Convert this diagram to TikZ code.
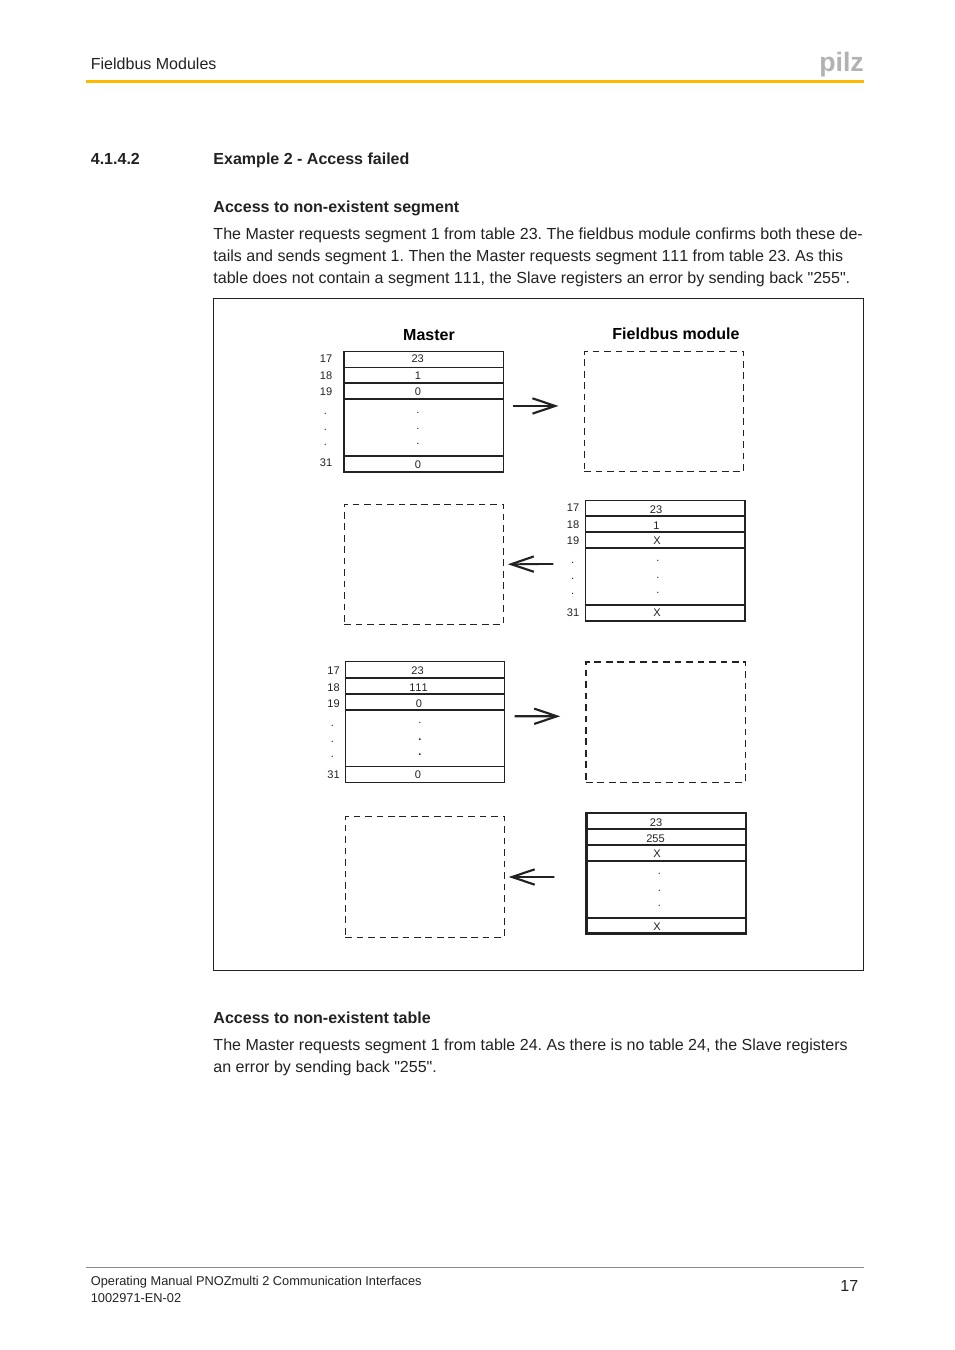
\documentclass[tikz,border=0pt]{standalone}
\usepackage{fontspec}
\setmainfont{Liberation Sans}
\newfontfamily\plainsans[Kerning=Off]{Liberation Sans}
\AtBeginDocument{\plainsans\frenchspacing}
\usetikzlibrary{arrows.meta}
\definecolor{ink}{HTML}{222222}
\definecolor{piz}{HTML}{B2B2B2}
\definecolor{rulegold}{HTML}{FFB900}
\definecolor{rulegrey}{HTML}{8A8A8A}
\tikzset{
  x=0.75pt,y=-0.75pt,
  body/.style={anchor=north west,inner sep=0pt,align=left,text=ink,font=\fontsize{12.02}{16.5}\selectfont},
  line/.style={anchor=base west,inner sep=0pt,text=ink,font=\fontsize{12.02}{16.5}\selectfont},
  head/.style={line,font=\fontsize{12.02}{16.5}\selectfont\bfseries},
  title/.style={anchor=center,inner sep=0pt,text=black,font=\fontsize{12}{14}\selectfont\bfseries},
  foot/.style={line,font=\fontsize{9.6}{12}\selectfont},
  cell/.style={anchor=center,inner sep=0pt,yshift=-0.5pt,text=ink,font=\fontsize{8.3}{10}\selectfont},
  regbox/.style={draw=ink,line width=1.2pt,inner sep=0pt,minimum width=119.6pt,minimum height=90.3pt},
  emptybox/.style={draw=ink,line width=0.7pt,dash pattern=on 5pt off 3.6pt,inner sep=0pt,minimum width=119.6pt,minimum height=90.3pt},
  thinrow/.style={draw=ink,line width=0.65pt},
  thickrow/.style={draw=ink,line width=1.2pt},
  flow/.style={draw=ink,line width=1.4pt,-{Straight Barb[length=17pt,width=11.5pt,line width=1.6pt]}},
}
\begin{document}
\begin{tikzpicture}
\useasboundingbox (0,0) rectangle (954,1350);
% page furniture
\node[line] (hdr) at (90.6,69) {Fieldbus Modules};
\node[anchor=base east,inner sep=0pt,text=piz,font=\fontsize{20}{20}\selectfont\bfseries] (logo) at (864,71.5) {pilz};
\fill[rulegold] (86,80) rectangle (863.5,83);
\node[head] (secnum) at (90.6,164) {4.1.4.2};
\node[head] (sectitle) at (213.2,164) {Example 2 - Access failed};
\node[head] (sub1) at (213.2,212) {Access to non-existent segment};
\node[body] (para1) at (213.2,227.3) {The Master requests segment 1 from table 23. The fieldbus module confirms both these de-\\tails and sends segment 1. Then the Master requests segment 111 from table 23. As this\\table does not contain a segment 111, the Slave registers an error by sending back "255".};
\draw[ink,line width=0.5pt] (213.5,298.5) rectangle (863.5,970.5);
\node[head] (sub2) at (213.2,1023) {Access to non-existent table};
\node[body] (para2) at (213.2,1038.7) {The Master requests segment 1 from table 24. As there is no table 24, the Slave registers\\an error by sending back "255".};
\draw[rulegrey,line width=0.5pt] (86,1267.5) -- (863.5,1267.5);
\node[foot] (foot1) at (90.6,1285) {Operating Manual PNOZmulti 2 Communication Interfaces};
\node[foot] (foot2) at (90.6,1302) {1002971-EN-02};
\node[anchor=base east,inner sep=0pt,text=ink,font=\fontsize{12}{14}\selectfont] (pageno) at (858.5,1291) {17};
% titles
\node[title] (tm) at (429,335) {Master};
\node[title] (tf) at (676,334) {Fieldbus module};
% boxes
\node[regbox] (t1) at (423.6,411.7) {};
\node[emptybox] (d1) at (664,411.7) {};
\node[regbox] (t2) at (665.2,560.5) {};
\node[emptybox] (d2) at (424,564.25) {};
\node[regbox,line width=0.75pt] (t3) at (424.9,722.15) {};
\node[emptybox,line width=1.05pt] (d3) at (665.7,722) {};
\node[regbox,line width=1.6pt] (t4) at (666.2,873.35) {};
\node[emptybox] (d4) at (424.9,877) {};
% rows
\draw[thinrow] (t1.west |- 0,367) -- (t1.east |- 0,367);
\foreach \yy in {383,398.7,456} \draw[thickrow] (t1.west |- 0,\yy) -- (t1.east |- 0,\yy);
\foreach \yy in {516,531.7,548,604.7} \draw[thickrow] (t2.west |- 0,\yy) -- (t2.east |- 0,\yy);
\foreach \yy in {678,694,710} \draw[thickrow] (t3.west |- 0,\yy) -- (t3.east |- 0,\yy);
\draw[thinrow] (t3.west |- 0,766.3) -- (t3.east |- 0,766.3);
\foreach \yy in {829,845,861,917.7} \draw[thickrow] (t4.west |- 0,\yy) -- (t4.east |- 0,\yy);
% table 1
\node[cell] (l1a) at (326,358) {17};
\node[cell] (l1b) at (326,375) {18};
\node[cell] (l1c) at (326,391) {19};
\node[cell] (l1d) at (325.5,413) {.};
\node[cell] (l1e) at (325.5,429.5) {.};
\node[cell] (l1f) at (325.5,444) {.};
\node[cell] (l1g) at (326,462) {31};
\node[cell] (v1a) at (417.7,358) {23};
\node[cell] (v1b) at (418,375) {1};
\node[cell] (v1c) at (418,391) {0};
\node[cell] (v1d) at (418,412) {.};
\node[cell] (v1e) at (418,428.5) {.};
\node[cell] (v1f) at (418,443.5) {.};
\node[cell] (v1g) at (418,464) {0};
% table 2
\node[cell] (l2a) at (573,507.3) {17};
\node[cell] (l2b) at (573,524) {18};
\node[cell] (l2c) at (573,540) {19};
\node[cell] (l2d) at (572.7,562.5) {.};
\node[cell] (l2e) at (572.7,578.5) {.};
\node[cell] (l2f) at (572.7,593) {.};
\node[cell] (l2g) at (573,612) {31};
\node[cell] (v2a) at (656,509) {23};
\node[cell] (v2b) at (656.5,525) {1};
\node[cell] (v2c) at (657,540) {X};
\node[cell] (v2d) at (658,560.5) {.};
\node[cell] (v2e) at (658,577.5) {.};
\node[cell] (v2f) at (658,592.5) {.};
\node[cell] (v2g) at (657,612) {X};
% table 3
\node[cell] (l3a) at (333.5,670) {17};
\node[cell] (l3b) at (333.5,687) {18};
\node[cell] (l3c) at (333.5,703) {19};
\node[cell] (l3d) at (332.5,725) {.};
\node[cell] (l3e) at (332.5,741.5) {.};
\node[cell] (l3f) at (332.5,756.5) {.};
\node[cell] (l3g) at (333.5,774) {31};
\node[cell] (v3a) at (417.5,670) {23};
\node[cell] (v3b) at (418.5,687) {111};
\node[cell] (v3c) at (419,703) {0};
\node[cell] (v3d) at (420,722.5) {.};
\node[cell,font=\fontsize{8.3}{10}\selectfont\bfseries] (v3e) at (420,739) {.};
\node[cell,font=\fontsize{8.3}{10}\selectfont\bfseries] (v3f) at (420,754) {.};
\node[cell] (v3g) at (418,774) {0};
% table 4
\node[cell] (v4a) at (656,822) {23};
\node[cell] (v4b) at (655.5,838) {255};
\node[cell] (v4c) at (657,853) {X};
\node[cell] (v4d) at (659.5,873.5) {.};
\node[cell] (v4e) at (659.5,890) {.};
\node[cell] (v4f) at (659.5,905.5) {.};
\node[cell] (v4g) at (657,926) {X};
% arrows
\draw[flow] ([xshift=6.75pt,yshift=4.3pt]t1.east) -- ([xshift=-19pt,yshift=4.3pt]d1.west);
\draw[flow] ([xshift=-23.5pt,yshift=-2.6pt]t2.west) -- ([xshift=2.7pt]d2.east);
\draw[flow,line width=1.8pt] ([xshift=7.1pt,yshift=4.4pt]t3.east) -- ([xshift=-18.8pt,yshift=4.3pt]d3.west);
\draw[flow] ([xshift=-23.25pt,yshift=-2.7pt]t4.west) -- ([xshift=2.7pt]d4.east);
\end{tikzpicture}
\end{document}
